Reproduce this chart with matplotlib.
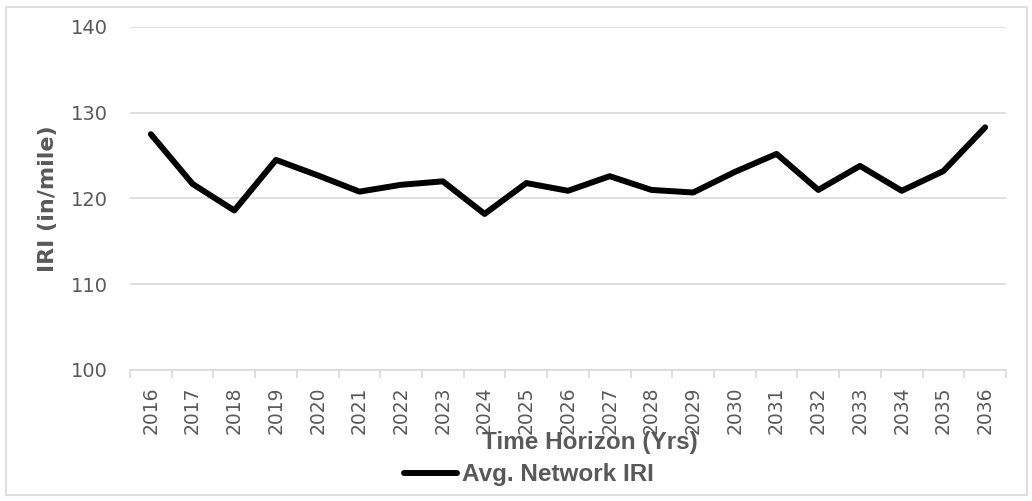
import numpy as np
import matplotlib
matplotlib.use('Agg')
import matplotlib.pyplot as plt
from matplotlib.patches import Rectangle

years = [str(y) for y in range(2016, 2037)]
avg_iri = [127.5, 121.7, 118.6, 124.5, 122.7, 120.8, 121.6, 122.0, 118.2, 121.8,
           120.9, 122.6, 121.0, 120.7, 123.1, 125.2, 121.0, 123.8, 120.9, 123.2, 128.3]
y_ticks = [100, 110, 120, 130, 140]

grey = '#d9d9d9'
text_grey = '#595959'

fig = plt.figure(figsize=(10.32, 5.01), dpi=100)
ax = fig.add_axes([130 / 1032, 1 - 370 / 501, 876 / 1032, 343 / 501])

x = np.arange(len(years))
line, = ax.plot(x, avg_iri, color='black', lw=4.3,
                solid_joinstyle='round', solid_capstyle='round',
                label='Avg. Network IRI')

ax.set_xlim(-0.5, len(years) - 0.5)
ax.set_ylim(100, 140)
ax.set_yticks(y_ticks)
ax.set_xticks(x)
ax.set_xticklabels(years, rotation=90)
ax.set_xticks(np.arange(-0.5, len(years)), minor=True)

ax.grid(axis='y', color=grey, lw=1.2)
ax.set_axisbelow(True)
for s in ['top', 'right', 'left']:
    ax.spines[s].set_visible(False)
ax.spines['bottom'].set_color(grey)
ax.spines['bottom'].set_linewidth(1.2)

ax.tick_params(axis='y', length=0, pad=16, labelsize=14, labelcolor=text_grey)
ax.tick_params(axis='x', which='major', length=0, pad=12, labelsize=13.5, labelcolor=text_grey)
ax.tick_params(axis='x', which='minor', length=6, width=1.2, color=grey)
for t in ax.get_yticklabels() + ax.get_xticklabels():
    t.set_family('DejaVu Sans')

ax.set_ylabel('IRI (in/mile)', fontsize=16, fontweight='bold', color=text_grey,
              family='DejaVu Sans', va='center')
ax.yaxis.set_label_coords(-0.094, 0.5)
ax.set_xlabel('Time Horizon (Yrs)', fontsize=17.5, fontweight='bold', color=text_grey,
              family=['Liberation Sans', 'DejaVu Sans'], va='center')
ax.xaxis.set_label_coords((590 - 130) / 876, (370 - 443) / 343)

leg = fig.legend(handles=[line], loc='center', bbox_to_anchor=(529 / 1032, 1 - 475 / 501),
                 frameon=False, handlelength=2.2, handletextpad=0.2, borderpad=0,
                 prop={'family': ['Liberation Sans', 'DejaVu Sans'], 'weight': 'bold', 'size': 17.5})
for t in leg.get_texts():
    t.set_color(text_grey)

fig.patches.append(Rectangle((6 / 1032, 6 / 501), 1021 / 1032, 488 / 501,
                             transform=fig.transFigure, fill=False,
                             edgecolor=grey, lw=1.2))

fig.savefig('out.png', dpi=100)
